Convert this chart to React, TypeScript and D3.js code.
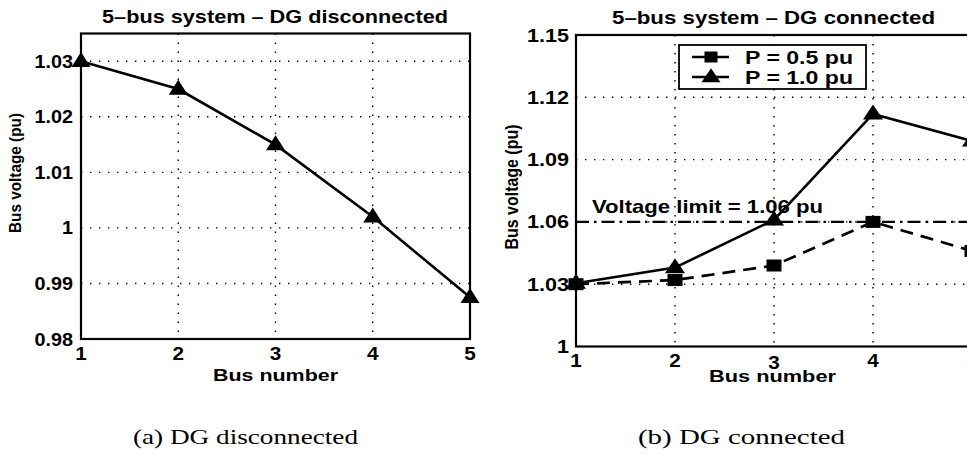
import React from "react";
import * as d3 from "d3";

const buses = [1, 2, 3, 4, 5];
const vDisconnected = [1.03, 1.025, 1.015, 1.002, 0.9875];
const vP05 = [1.03, 1.032, 1.039, 1.06, 1.046];
const vP10 = [1.0305, 1.038, 1.061, 1.112, 1.099];
const leftYTicks = [0.98, 0.99, 1, 1.01, 1.02, 1.03];
const rightYTicks = [1, 1.03, 1.06, 1.09, 1.12, 1.15];
const voltageLimit = 1.06;
const leftTitle = "5\u2013bus system \u2013 DG disconnected";
const rightTitle = "5\u2013bus system \u2013 DG connected";
const xLabel = "Bus number";
const yLabel = "Bus voltage (pu)";
const legendLabels = ["P = 0.5 pu", "P = 1.0 pu"];
const limitLabel = "Voltage limit = 1.06 pu";
const captions = ["(a) DG disconnected", "(b) DG connected"];

const SANS = "'Liberation Sans', Arial, Helvetica, sans-serif";
const SERIF = "'Liberation Serif', 'Times New Roman', serif";

function Tri({ x, y, w = 18, h = 14 }: { x: number; y: number; w?: number; h?: number }) {
  return (
    <path
      d={`M${x},${y - h * 0.62} L${x + w / 2},${y + h * 0.38} L${x - w / 2},${y + h * 0.38} Z`}
      fill="#000"
    />
  );
}
function Sq({ x, y, w = 14, h = 11 }: { x: number; y: number; w?: number; h?: number }) {
  return <rect x={x - w / 2} y={y - h / 2} width={w} height={h} fill="#000" />;
}

function SText(props: {
  x: number; y: number; sx?: number; anchor?: string; size?: number; weight?: string | number; family?: string; children: any;
}) {
  const { x, y, sx = 1.15, anchor = "middle", size = 18, weight = "bold", family = SANS, children } = props;
  return (
    <text
      transform={`translate(${x},${y}) scale(${sx},1)`}
      textAnchor={anchor}
      fontSize={size}
      fontWeight={weight}
      fontFamily={family}
      fill="#000"
    >
      {children}
    </text>
  );
}

function FitText(props: {
  x: number; y: number; w: number; size?: number; weight?: string | number; family?: string; children: any;
}) {
  const { x, y, w, size = 18, weight = "bold", family = SANS, children } = props;
  return (
    <text x={x} y={y} textLength={w} lengthAdjust="spacingAndGlyphs" fontSize={size} fontWeight={weight} fontFamily={family} fill="#000">
      {children}
    </text>
  );
}

const gridStyle = { stroke: "#000", strokeWidth: 1.4, strokeDasharray: "1.4,7.6" };

export default function App() {
  // Left panel
  const lx = d3.scaleLinear().domain([1, 5]).range([81, 470]);
  const ly = d3.scaleLinear().domain([0.98, 1.035]).range([339, 33.5]);
  // Right panel
  const rx = d3.scaleLinear().domain([1, 5]).range([576, 972]);
  const ry = d3.scaleLinear().domain([1, 1.15]).range([346.5, 35]);

  const leftLine = d3.line<number>().x((_, i) => lx(buses[i])).y((d) => ly(d));
  const rightLine05 = d3.line<number>().x((_, i) => rx(buses[i])).y((d) => ry(d));
  const rightLine10 = d3.line<number>().x((_, i) => rx(buses[i])).y((d) => ry(d));

  return (
    <svg
      width={967}
      height={455}
      style={{ position: "absolute", left: 0, top: 0, background: "#fff" }}
    >
      <rect x={0} y={0} width={967} height={455} fill="#fff" />

      {/* ---------- LEFT PANEL ---------- */}
      <FitText x={102} y={23} w={346} size={18}>{leftTitle}</FitText>
      {buses.slice(1, 4).map((b) => (
        <line key={"lgx" + b} x1={lx(b)} x2={lx(b)} y1={ly(1.035)} y2={ly(0.98)} {...gridStyle} />
      ))}
      {leftYTicks.slice(1).map((t) => (
        <line key={"lgy" + t} x1={lx(1)} x2={lx(5)} y1={ly(t)} y2={ly(t)} {...gridStyle} />
      ))}
      <rect x={lx(1)} y={ly(1.035)} width={lx(5) - lx(1)} height={ly(0.98) - ly(1.035)} fill="none" stroke="#000" strokeWidth={2.2} />
      {leftYTicks.map((t) => (
        <SText key={"lyt" + t} x={73} y={ly(t) + 6.5} anchor="end" sx={1.1}>
          {String(t)}
        </SText>
      ))}
      {buses.map((b) => (
        <SText key={"lxt" + b} x={lx(b)} y={360} sx={1.15}>
          {String(b)}
        </SText>
      ))}
      <FitText x={213} y={381} w={125} weight="bold" size={17}>{xLabel}</FitText>
      <text
        transform={`translate(21,173) rotate(-90) scale(1,1.05)`}
        textAnchor="middle"
        fontSize={16.5}
        fontWeight="bold"
        fontFamily={SANS}
        textLength={120}
        lengthAdjust="spacingAndGlyphs"
        fill="#000"
      >
        {yLabel}
      </text>
      <path d={leftLine(vDisconnected) || ""} fill="none" stroke="#000" strokeWidth={2.6} />
      {vDisconnected.map((v, i) => (
        <Tri key={"ltri" + i} x={lx(buses[i])} y={ly(v)} w={19} h={15} />
      ))}

      {/* ---------- RIGHT PANEL ---------- */}
      <FitText x={612} y={24} w={323} size={18}>{rightTitle}</FitText>
      {buses.slice(1, 4).map((b) => (
        <line key={"rgx" + b} x1={rx(b)} x2={rx(b)} y1={ry(1.15)} y2={ry(1)} {...gridStyle} />
      ))}
      {rightYTicks.slice(1, 5).map((t) => (
        <line key={"rgy" + t} x1={rx(1)} x2={rx(5)} y1={ry(t)} y2={ry(t)} {...gridStyle} />
      ))}
      <rect x={rx(1)} y={ry(1.15)} width={rx(5) - rx(1)} height={ry(1) - ry(1.15)} fill="none" stroke="#000" strokeWidth={2.2} />
      {rightYTicks.map((t) => (
        <SText key={"ryt" + t} x={569} y={ry(t) + 6.5} anchor="end" sx={1.2}>
          {String(t)}
        </SText>
      ))}
      {buses.map((b) => (
        <SText key={"rxt" + b} x={rx(b)} y={b === 3 ? 369 : 367} sx={1.15}>
          {String(b)}
        </SText>
      ))}
      <FitText x={709} y={382} w={127} weight="bold" size={17}>{xLabel}</FitText>
      <text
        transform={`translate(518,187) rotate(-90) scale(1,1.05)`}
        textAnchor="middle"
        fontSize={17}
        fontWeight="bold"
        fontFamily={SANS}
        textLength={125}
        lengthAdjust="spacingAndGlyphs"
        fill="#000"
      >
        {yLabel}
      </text>

      <FitText x={592} y={213} w={231} size={18.5}>{limitLabel}</FitText>
      <line
        x1={rx(1)}
        x2={rx(5)}
        y1={ry(voltageLimit)}
        y2={ry(voltageLimit)}
        stroke="#000"
        strokeWidth={2.2}
        strokeDasharray="13,5,2.5,5"
      />

      <path d={rightLine05(vP05) || ""} fill="none" stroke="#000" strokeWidth={2.7} strokeDasharray="13,8" />
      {vP05.map((v, i) => (
        <Sq key={"rsq" + i} x={rx(buses[i])} y={ry(v)} w={15} h={12} />
      ))}
      <path d={rightLine10(vP10) || ""} fill="none" stroke="#000" strokeWidth={2.6} />
      {vP10.map((v, i) => (
        <Tri key={"rtri" + i} x={rx(buses[i])} y={ry(v)} w={20} h={15} />
      ))}

      <rect x={679} y={45} width={187} height={44} fill="#fff" stroke="#000" strokeWidth={1.8} />
      <line x1={692} x2={729} y1={57} y2={57} stroke="#000" strokeWidth={2.7} />
      <Sq x={711} y={57} w={13} h={11} />
      <line x1={692} x2={729} y1={77} y2={77} stroke="#000" strokeWidth={2.7} />
      <Tri x={711} y={77} w={19} h={14} />
      <FitText x={745} y={63.5} w={108} size={18}>{legendLabels[0]}</FitText>
      <FitText x={745} y={83.5} w={108} size={18}>{legendLabels[1]}</FitText>

      <FitText x={133} y={444} w={225} size={21} weight="normal" family={SERIF}>{captions[0]}</FitText>
      <FitText x={638} y={444} w={207} size={21} weight="normal" family={SERIF}>{captions[1]}</FitText>
    </svg>
  );
}
